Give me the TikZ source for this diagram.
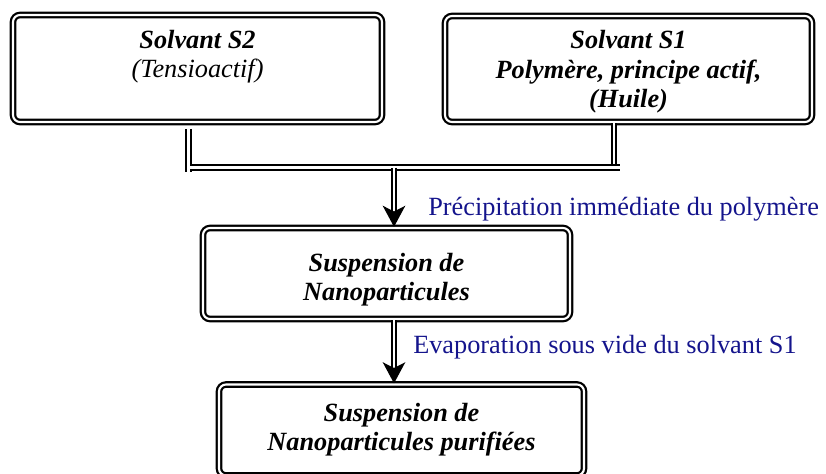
\documentclass[tikz,border=0pt]{standalone}
\usepackage{fontspec}
\setmainfont{Liberation Serif}
\usetikzlibrary{positioning}
\usetikzlibrary{arrows.meta}
\definecolor{notecolor}{RGB}{20,20,140}

\begin{document}
\begin{tikzpicture}[
  box/.style={draw, double, line width=1.6pt, double distance=1.5pt, rounded corners=5pt,
    align=center, inner sep=0pt, font=\fontsize{18.7}{20.8}\selectfont\bfseries\itshape},
  link/.style={double, line width=1.2pt, double distance=2pt},
  flow/.style={link, -{Stealth[length=15pt,width=16pt,inset=4pt]}},
  note/.style={anchor=base west, inner sep=0pt, text=notecolor, font=\fontsize{18.7}{20.5}\selectfont}
]
\useasboundingbox (0,0) rectangle (20.65,-11.825);

\node[box, minimum width=9.225cm, minimum height=2.675cm] (s2) at (4.9375,-1.7125)
  {Solvant S2\\ {\mdseries (Tensioactif)}\\ \mbox{}};
\node[box, minimum width=9.175cm, minimum height=2.65cm] (s1) at (15.7125,-1.725)
  {\rule{0pt}{17pt}Solvant S1\\ Polymère, principe actif,\\ (Huile)};
\node[box, minimum width=9.175cm, minimum height=2.275cm] (nano) at (9.6625,-6.8375)
  {\rule{0pt}{22pt}Suspension de\\ Nanoparticules};
\node[box, minimum width=9.125cm, minimum height=2.275cm] (puri) at (10.0375,-10.75)
  {Suspension de\\ Nanoparticules purifiées};

% joining the two solvents
\coordinate (j2) at (4.7125,-4.3);
\coordinate (j1) at (15.35,-4.125);
\coordinate (h2) at (4.75,-4.1875);
\coordinate (h1) at (15.5,-4.1875);
\coordinate (m) at (9.85,-4.1875);
\draw[link] ([yshift=-4pt]s2.south -| j2) -- (j2);
\draw[link] (s1.south -| j1) -- (j1);
\draw[link] (h2) -- (h1);

\draw[flow] (m) -- (nano.north -| m);
\draw[flow] (nano.south -| m) -- (puri.north -| m);

\node[note] (n1) at (10.7,-5.375) {Précipitation immédiate du polymère};
\node[note] (n2) at (10.325,-8.825) {Evaporation sous vide du solvant S1};
\end{tikzpicture}
\end{document}
